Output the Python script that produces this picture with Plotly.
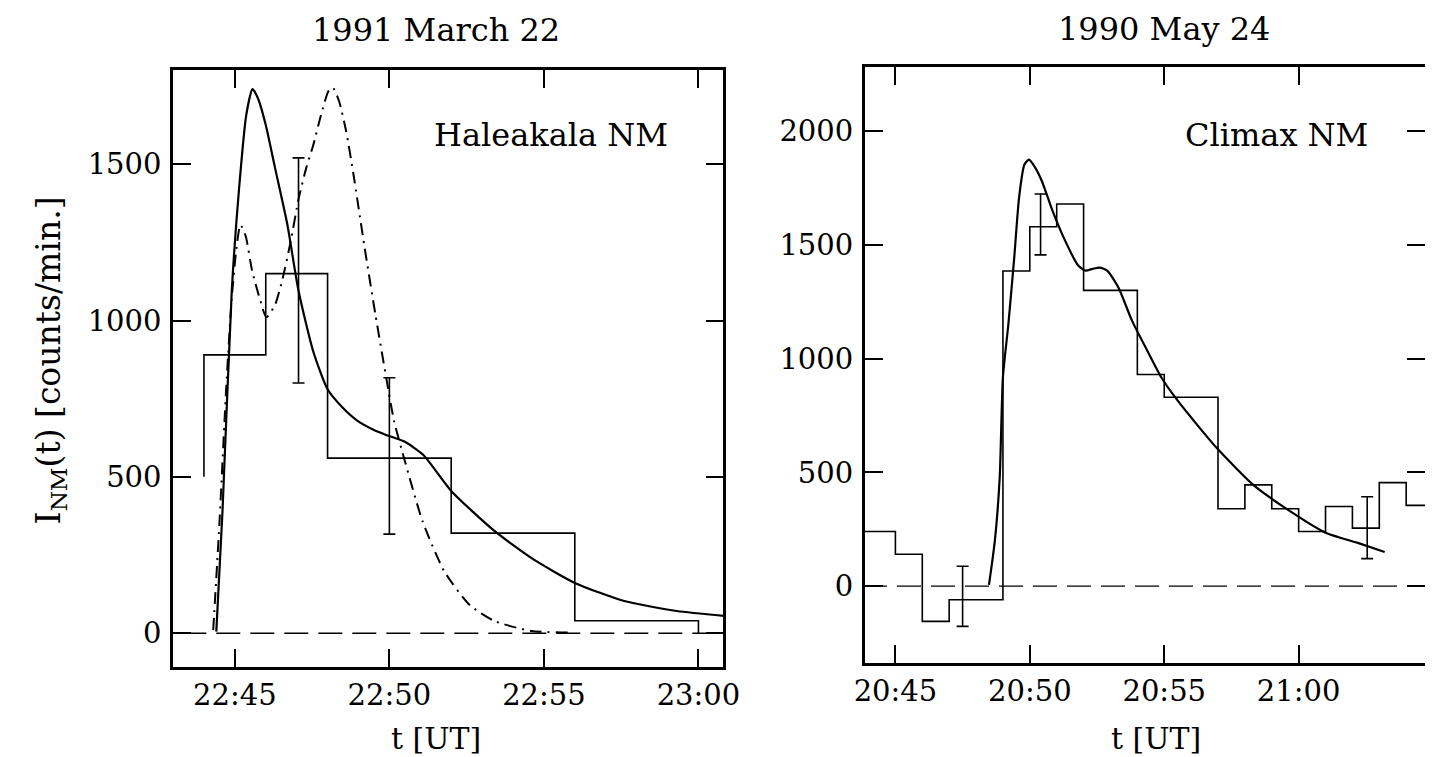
import plotly.graph_objects as go

W, H = 1433, 757
FONT = "DejaVu Serif"

# ---------------- data: left panel (1991 March 22, Haleakala NM) -------------
# time in minutes after 22:00 UT
left_edges = [44, 46, 48, 52, 56, 60]
left_counts = [890, 1150, 560, 320, 40]
left_start_level = 500
left_end_level = 0

left_err_t = [47.06, 50.0]
left_err_val = [1160, 567]
left_err_sig = [360, 250]

left_solid_t = [44.4, 44.6, 44.9, 45.13, 45.37, 45.57, 45.75, 46.0, 46.3, 46.7,
                47.06, 47.54, 48.0, 48.5, 48.97, 49.5, 49.9, 50.5, 51.1, 52.0,
                53.4, 54.6, 56.0, 57.6, 59.3, 60.9]
left_solid_v = [5, 390, 1095, 1414, 1658, 1740, 1710, 1625, 1488, 1306,
                1095, 900, 780, 720, 679, 650, 634, 612, 570, 455,
                327, 240, 161, 103, 71, 55]

left_dd_t = [44.3, 44.5, 44.72, 44.9, 45.05, 45.18, 45.35, 45.56, 45.8, 46.02,
             46.3, 46.55, 46.8, 47.07, 47.31, 47.54, 47.79, 48.03, 48.17, 48.37,
             48.6, 48.84, 49.2, 49.55, 49.9, 50.15, 50.5, 51.07, 51.77, 52.6,
             53.4, 54.6, 55.8]
left_dd_v = [10, 350, 784, 1072, 1230, 1306, 1270, 1158, 1072, 1010,
             1050, 1136, 1250, 1392, 1488, 1562, 1658, 1734, 1745, 1702,
             1606, 1466, 1232, 1018, 816, 679, 551, 359, 199, 90,
             39, 7, 2]

left_xticks = [45, 50, 55, 60]
left_xticklabels = ["22:45", "22:50", "22:55", "23:00"]
left_yticks = [0, 500, 1000, 1500]

# ---------------- data: right panel (1990 May 24, Climax NM) -----------------
# time in minutes after 20:00 UT
right_edges = [43, 45, 46, 47, 49, 50, 51, 52, 54, 55, 57, 58, 59, 60, 61, 62, 63, 64, 66]
right_counts = [240, 140, -155, -60, 1385, 1580, 1680, 1300, 930, 830,
                340, 445, 340, 240, 350, 255, 455, 355]

right_err_t = [47.5, 50.4, 62.55]
right_err_val = [-45, 1590, 257]
right_err_sig = [132, 134, 136]

right_solid_t = [48.48, 48.7, 48.88, 49.0, 49.2, 49.42, 49.6, 49.8, 49.97, 50.2,
                 50.45, 50.85, 51.26, 51.8, 52.07, 52.35, 52.6, 52.88, 53.3, 53.8,
                 54.37, 54.9, 55.5, 56.1, 56.94, 58.3, 59.65, 61.0, 62.2, 63.2]
right_solid_v = [5, 200, 477, 920, 1149, 1444, 1708, 1853, 1875, 1840,
                 1780, 1648, 1532, 1409, 1387, 1395, 1400, 1387, 1312, 1167,
                 1035, 916, 815, 727, 609, 446, 332, 235, 190, 150]

right_xticks = [45, 50, 55, 60]
right_xticklabels = ["20:45", "20:50", "20:55", "21:00"]
right_yticks = [0, 500, 1000, 1500, 2000]

# ---------------- figure -----------------------------------------------------
fig = go.Figure()

# left histogram (step line)
lx = [left_edges[0]] + left_edges
ly = [left_start_level] + left_counts + [left_end_level]
fig.add_trace(go.Scatter(x=lx, y=ly, mode="lines", line=dict(color="black", width=1.6, shape="hv"),
                         xaxis="x", yaxis="y", showlegend=False, hoverinfo="skip"))
# zero line
fig.add_trace(go.Scatter(x=[40, 65], y=[0, 0], mode="lines",
                         line=dict(color="black", width=1.4, dash="24px,10px"),
                         xaxis="x", yaxis="y", showlegend=False, hoverinfo="skip"))
# dash-dot model
fig.add_trace(go.Scatter(x=left_dd_t, y=left_dd_v, mode="lines",
                         line=dict(color="black", width=2, dash="12px,6px,2px,6px", shape="spline", smoothing=0.6),
                         xaxis="x", yaxis="y", showlegend=False, hoverinfo="skip"))
# solid model
fig.add_trace(go.Scatter(x=left_solid_t, y=left_solid_v, mode="lines",
                         line=dict(color="black", width=2.2, shape="spline", smoothing=0.6),
                         xaxis="x", yaxis="y", showlegend=False, hoverinfo="skip"))
# error bars
fig.add_trace(go.Scatter(x=left_err_t, y=left_err_val, mode="markers",
                         marker=dict(size=1, color="rgba(0,0,0,0)"),
                         error_y=dict(type="data", array=left_err_sig, visible=True,
                                      color="black", thickness=1.6, width=6),
                         xaxis="x", yaxis="y", showlegend=False, hoverinfo="skip"))

# right histogram
rx = right_edges[:-1] + [right_edges[-1]]
ry = right_counts + [right_counts[-1]]
fig.add_trace(go.Scatter(x=rx, y=ry, mode="lines", line=dict(color="black", width=1.6, shape="hv"),
                         xaxis="x2", yaxis="y2", showlegend=False, hoverinfo="skip"))
fig.add_trace(go.Scatter(x=[40, 70], y=[0, 0], mode="lines",
                         line=dict(color="black", width=1.4, dash="24px,10px"),
                         xaxis="x2", yaxis="y2", showlegend=False, hoverinfo="skip"))
fig.add_trace(go.Scatter(x=right_solid_t, y=right_solid_v, mode="lines",
                         line=dict(color="black", width=2.2, shape="spline", smoothing=0.6),
                         xaxis="x2", yaxis="y2", showlegend=False, hoverinfo="skip"))
fig.add_trace(go.Scatter(x=right_err_t, y=right_err_val, mode="markers",
                         marker=dict(size=1, color="rgba(0,0,0,0)"),
                         error_y=dict(type="data", array=right_err_sig, visible=True,
                                      color="black", thickness=1.6, width=6),
                         xaxis="x2", yaxis="y2", showlegend=False, hoverinfo="skip"))

axis_common = dict(showline=True, linecolor="black", linewidth=2.5, mirror="ticks",
                   ticks="inside", ticklen=18, tickwidth=1.8, tickcolor="black",
                   showgrid=False, zeroline=False,
                   tickfont=dict(family=FONT, size=29, color="black"))

def px_x(p):
    return p / W

def px_y(p):
    return 1 - p / H

fig.update_layout(
    width=W, height=H,
    margin=dict(l=0, r=0, t=0, b=0),
    paper_bgcolor="white", plot_bgcolor="white",
    xaxis=dict(domain=[px_x(157), px_x(718)], range=[43.0, 60.81],
               tickvals=left_xticks, ticktext=left_xticklabels, anchor="y",
               ticklabelstandoff=0, **axis_common),
    yaxis=dict(domain=[px_y(659), px_y(62)], range=[-108, 1801],
               tickvals=left_yticks, anchor="x", ticklabelstandoff=3, **axis_common),
    xaxis2=dict(domain=[px_x(862), 1.0], range=[43.86, 64.7],
                tickvals=right_xticks, ticktext=right_xticklabels, anchor="y2",
                ticklabelstandoff=0, **axis_common),
    yaxis2=dict(domain=[px_y(655), px_y(59)], range=[-338, 2282],
                tickvals=right_yticks, anchor="x2", ticklabelstandoff=3, **axis_common),
)

def note(text, x, y, size=30, angle=0):
    fig.add_annotation(text=text, x=px_x(x), y=px_y(y), xref="paper", yref="paper",
                       showarrow=False, textangle=angle, xanchor="center", yanchor="middle",
                       font=dict(family=FONT, size=size, color="black"))

note("1991 March 22", 425, 22, size=32)
note("1990 May 24", 1167, 21, size=32)
note("Haleakala NM", 542, 127, size=32)
note("Climax NM", 1282, 127, size=32)
note("t [UT]", 425, 730, size=30)
note("t [UT]", 1159, 730, size=30)
note("I<sub>NM</sub>(t) [counts/min.]", 32, 352, size=33, angle=-90)

fig.write_html("out.html")
